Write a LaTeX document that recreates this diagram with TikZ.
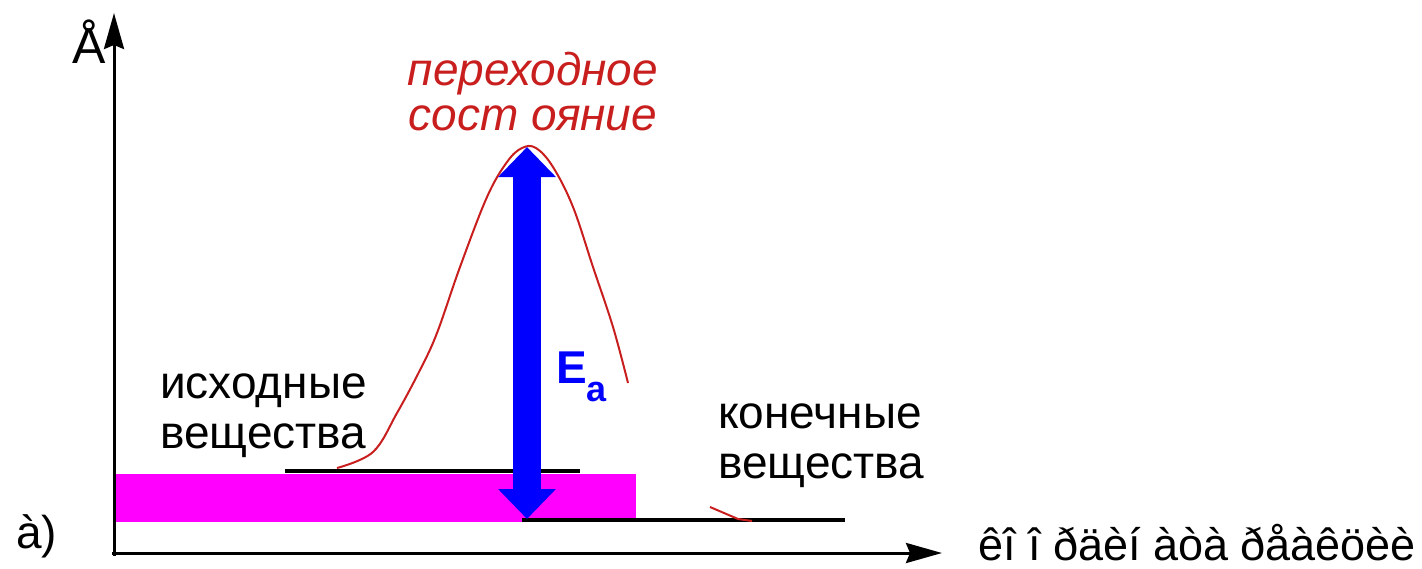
\documentclass[tikz,border=0pt]{standalone}
\usepackage{fontspec}
\setmainfont{Liberation Sans}
\usetikzlibrary{arrows.meta}
\definecolor{curvered}{RGB}{200,30,30}
\definecolor{eablue}{RGB}{0,0,255}
\definecolor{barmag}{RGB}{255,0,255}
\tikzset{
  axis/.style={line width=3pt,-{Stealth[length=36pt,width=20pt,inset=4pt]}},
  level/.style={line width=3.5pt,black},
  lbl/.style={inner sep=0pt,anchor=base west,font=\fontsize{46}{46}\selectfont},
  redlbl/.style={inner sep=0pt,anchor=base,text=curvered,font=\fontsize{46}{46}\selectfont\itshape},
}
\begin{document}
\begin{tikzpicture}[x=1pt,y=-1pt]
\useasboundingbox (0,0) rectangle (1422,568);
% magenta bar
\fill[barmag] (116,474) rectangle (636,522);
% axes
\coordinate (o) at (114,553);
\coordinate (ytop) at (114,13);
\coordinate (xend) at (942,553);
\draw[axis] (114,556) -- (ytop);
\draw[axis] (112,553) -- (xend);
% levels
\coordinate (r1) at (285,471); \coordinate (r2) at (580,471);
\coordinate (p1) at (522,520); \coordinate (p2) at (845,520);
\draw[level] (r1) -- (r2);
\draw[level] (p1) -- (p2);
% red curve
\draw[curvered,line width=2pt] plot[smooth,tension=0.6] coordinates {
 (337,468) (373,452) (397,413) (420,370) (437,333) (460,267) (487,197) (507,162) (522,148) (536,148) (553,167) (573,207) (593,267) (613,327) (628,383)};
\draw[curvered,line width=2pt] (710,507) -- (738,519) -- (752,521);
% activation arrow
\coordinate (ts) at (527,147);
\coordinate (pl) at (527,519);
\draw[eablue,line width=28pt,{Triangle[length=30pt,width=56pt]}-{Triangle[length=30pt,width=56pt]}] (ts) -- (pl);
% labels
\node[inner sep=0pt,anchor=base west,font=\fontsize{50}{50}\selectfont] (E) at (72,63) {Å};
\node[redlbl] (ts1) at (533,85) {переходное};
\node[redlbl] (ts2) at (533,130) {сост ояние};
\node[lbl] (re1) at (160,398) {исходные};
\node[lbl] (re2) at (160,448) {вещества};
\node[lbl] (pr1) at (718,428) {конечные};
\node[lbl] (pr2) at (718,478) {вещества};
\node[inner sep=0pt,anchor=base west,text=eablue,font=\fontsize{46}{46}\selectfont\bfseries] (ea) at (556,383) {E\raisebox{-18pt}{\fontsize{36}{36}\selectfont a}};
\node[lbl] (a) at (16,548) {à)};
\node[lbl,font=\fontsize{45}{45}\selectfont] (xl) at (978,560) {êî î ðäèí àòà ðåàêöèè};
\end{tikzpicture}
\end{document}
